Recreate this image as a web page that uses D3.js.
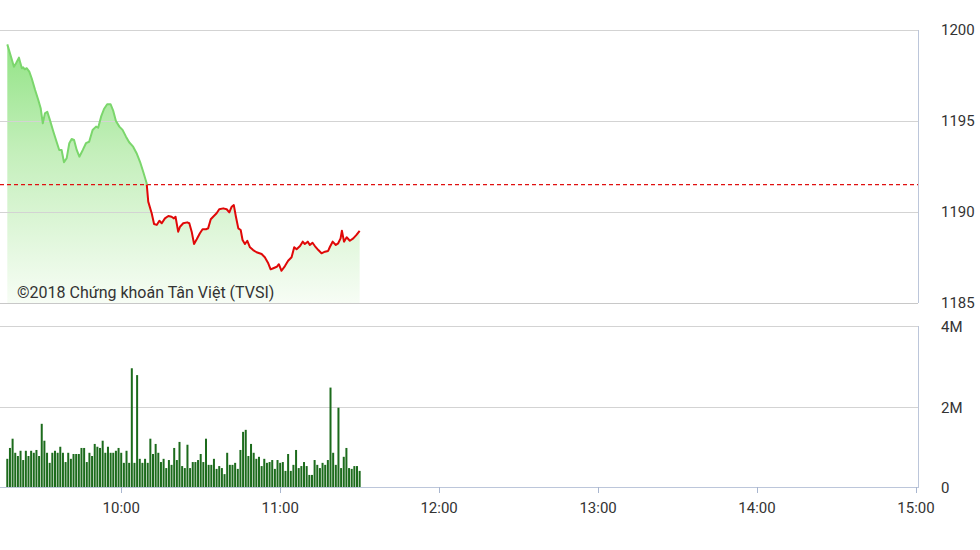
<!DOCTYPE html>
<html>
<head>
<meta charset="utf-8">
<script src="https://cdn.jsdelivr.net/npm/d3@7"></script>
<style>
html,body{margin:0;padding:0;background:#fff;}
svg{display:block;font-family:Roboto,"Noto Sans",Arial,sans-serif;}
</style>
</head>
<body>
<svg id="chart" width="980" height="550"></svg>
<script>
// ---- data ----
// price points: minutes after 09:00, index value
const priceTimes = [17,18.4,19.5,20.3,21.4,21.8,22.5,23.0,23.6,24.3,25.3,26.2,27.5,28.7,29.6,30.4,31.2,32.1,33.1,34.4,35.6,36.6,37.5,38.4,39.4,40.4,41.3,42.2,43.2,44.2,45.5,46.7,47.9,49.2,50.5,51.3,52.4,53.5,54.7,56.0,57.0,58.0,59.3,60.5,61.8,63.0,64.5,65.8,67.1,68.3,69.6,70.2,71.5,72.4,73.4,74.4,75.3,76.5,77.8,79.0,79.9,80.5,81.5,82.2,83.4,84.9,85.7,86.6,87.5,88.5,89.7,90.7,92.0,92.8,93.8,94.7,96.0,97.0,98.5,99.8,100.8,101.7,102.5,103.3,104.2,105.1,105.8,106.7,107.6,108.6,109.8,111.1,113.0,114.2,115.5,116.4,117.4,118.7,119.5,120.5,121.8,123.0,124.3,125.3,126.2,127.5,128.5,129.3,130.4,131.2,132.2,133.1,134.4,135.6,136.9,138.1,138.8,139.8,141.0,141.9,142.8,143.3,144.1,145.1,146.3,147.6,148.8,150];
const priceValues = [1199.21,1198.53,1197.98,1198.17,1198.48,1198.26,1197.90,1197.95,1197.84,1197.90,1197.71,1197.35,1196.70,1196.15,1195.70,1194.87,1195.42,1195.51,1195.05,1194.41,1193.86,1193.41,1193.41,1192.73,1192.95,1193.78,1194.01,1193.96,1193.41,1193.04,1193.41,1193.78,1193.86,1194.51,1194.69,1194.63,1195.24,1195.66,1195.92,1195.92,1195.55,1195.00,1194.69,1194.51,1194.14,1193.83,1193.59,1193.23,1192.76,1192.21,1191.58,1190.57,1189.93,1189.34,1189.29,1189.52,1189.38,1189.65,1189.78,1189.74,1189.65,1189.74,1188.92,1189.19,1189.38,1189.43,1189.38,1188.92,1188.24,1188.50,1188.83,1189.05,1189.05,1189.10,1189.60,1189.74,1189.93,1190.15,1190.20,1190.15,1189.98,1190.29,1190.38,1189.74,1189.10,1189.01,1188.46,1188.24,1188.42,1188.06,1187.91,1187.79,1187.69,1187.51,1187.18,1186.85,1186.91,1186.99,1187.13,1186.77,1187.03,1187.32,1187.51,1188.06,1187.95,1188.13,1188.37,1188.24,1188.37,1188.19,1188.31,1188.13,1187.91,1187.73,1187.82,1187.86,1188.09,1188.37,1188.19,1188.28,1188.55,1188.97,1188.37,1188.61,1188.42,1188.55,1188.74,1188.96];
const referencePrice = 1191.5;

// volume per minute (millions), first bar at 09:17
const volumeStart = 17;
const volumes = [0.7,0.97,1.2,0.85,0.77,0.9,0.67,0.9,0.77,0.9,0.85,0.92,0.77,1.57,1.15,0.85,0.6,0.85,0.9,0.85,1.0,0.85,0.62,0.85,0.7,0.82,0.82,0.82,0.97,0.97,0.62,0.85,0.77,1.07,1.0,0.97,1.15,0.85,1.0,0.85,0.85,0.9,0.97,0.85,
0.6,0.9,0.6,2.95,0.6,2.78,0.7,0.6,0.7,0.6,1.2,0.82,1.07,0.85,0.62,0.7,0.47,0.67,0.55,0.97,0.67,1.12,0.52,0.47,1.05,0.47,0.62,0.62,0.67,0.82,0.62,1.2,0.55,0.55,0.7,0.45,0.52,0.47,0.32,0.85,0.55,0.55,0.6,0.45,
0.92,1.37,1.42,0.77,1.07,0.85,0.7,0.75,0.52,0.7,0.6,0.62,0.67,0.45,0.67,0.6,0.62,0.4,0.82,0.4,0.55,0.92,0.47,0.52,0.62,0.52,0.3,0.3,0.67,0.55,0.47,0.6,0.55,0.67,2.47,0.85,0.55,1.97,0.47,0.75,0.97,0.47,0.45,0.52,0.52,0.4];

const timeTicks = [60,120,180,240,300,360];
const timeTickLabels = ["10:00","11:00","12:00","13:00","14:00","15:00"];
const priceTicks = [1185,1190,1195,1200];
const volumeTicks = [0,2,4];
const volumeTickLabels = ["0","2M","4M"];
const copyright = "©2018 Chứng khoán Tân Việt (TVSI)";

// ---- drawing ----
const svg = d3.select("#chart");
const plotRight = 918;
const x = d3.scaleLinear().domain([15,360]).range([2,916]);
const yP = d3.scaleLinear().domain([1185,1200]).range([303,30]);
const yV = d3.scaleLinear().domain([0,4]).range([487,326]);

const defs = svg.append("defs");
const grad = defs.append("linearGradient").attr("id","areaGrad")
  .attr("gradientUnits","userSpaceOnUse").attr("x1",0).attr("x2",0).attr("y1",yP(1200)).attr("y2",yP(1185));
grad.append("stop").attr("offset","0%").attr("stop-color","#8ce27f");
grad.append("stop").attr("offset","45%").attr("stop-color","#c4efbb");
grad.append("stop").attr("offset","100%").attr("stop-color","#f7fdf5");

const refY = yP(referencePrice);
defs.append("clipPath").attr("id","clipAbove").append("rect")
  .attr("x",0).attr("y",0).attr("width",980).attr("height",refY);
defs.append("clipPath").attr("id","clipBelow").append("rect")
  .attr("x",0).attr("y",refY).attr("width",980).attr("height",550-refY);

const pts = priceTimes.map((t,i)=>({t, v: priceValues[i]}));

// area
svg.append("path").datum(pts)
  .attr("fill","url(#areaGrad)")
  .attr("d", d3.area().x(d=>x(d.t)).y0(yP(1185)).y1(d=>yP(d.v)));

// price gridlines
svg.append("g").selectAll("line").data(priceTicks).join("line")
  .attr("x1",0).attr("x2",plotRight)
  .attr("y1",d=>Math.round(yP(d))+0.5).attr("y2",d=>Math.round(yP(d))+0.5)
  .attr("stroke",d=>d===1185?"#c8c8c8":"#d3d3d3").attr("stroke-width",1);
// right border price panel
svg.append("line").attr("x1",plotRight+0.5).attr("x2",plotRight+0.5)
  .attr("y1",yP(1200)).attr("y2",yP(1185)).attr("stroke","#bcc6da");

// reference dashed line
svg.append("line").attr("x1",0).attr("x2",plotRight)
  .attr("y1",refY).attr("y2",refY)
  .attr("stroke","#e01010").attr("stroke-width",1.2).attr("stroke-dasharray","4,3");

// price line
const line = d3.line().x(d=>x(d.t)).y(d=>yP(d.v));
svg.append("path").datum(pts).attr("clip-path","url(#clipAbove)")
  .attr("fill","none").attr("stroke","#7bd66c").attr("stroke-width",2).attr("stroke-linejoin","round")
  .attr("d",line);
svg.append("path").datum(pts).attr("clip-path","url(#clipBelow)")
  .attr("fill","none").attr("stroke","#e00808").attr("stroke-width",2).attr("stroke-linejoin","round")
  .attr("d",line);

// copyright
svg.append("text").attr("x",17).attr("y",298).attr("font-size",16).attr("fill","#333")
  .text(copyright);

// price labels
svg.append("g").selectAll("text").data(priceTicks).join("text")
  .attr("x",941).attr("y",d=>yP(d)).attr("dy","0.36em")
  .attr("font-size",15).attr("fill","#333").text(d=>d);

// volume gridlines
svg.append("g").selectAll("line").data(volumeTicks.filter(d=>d>0)).join("line")
  .attr("x1",0).attr("x2",plotRight)
  .attr("y1",d=>Math.round(yV(d))+0.5).attr("y2",d=>Math.round(yV(d))+0.5)
  .attr("stroke","#d3d3d3");
svg.append("line").attr("x1",plotRight+0.5).attr("x2",plotRight+0.5)
  .attr("y1",yV(4)).attr("y2",yV(0)).attr("stroke","#bcc6da");

// volume bars
svg.append("g").selectAll("rect").data(volumes).join("rect")
  .attr("x",(d,i)=>x(volumeStart+i)-1).attr("width",2)
  .attr("y",d=>yV(d)).attr("height",d=>yV(0)-yV(d))
  .attr("fill","#1c6b1c");

// x axis baseline & ticks
svg.append("line").attr("x1",0).attr("x2",plotRight+1)
  .attr("y1",yV(0)+0.5).attr("y2",yV(0)+0.5).attr("stroke","#bcc6da");
const xt = svg.append("g").selectAll("g").data(timeTicks).join("g");
xt.append("line").attr("x1",d=>Math.round(x(d))+0.5).attr("x2",d=>Math.round(x(d))+0.5)
  .attr("y1",yV(0)).attr("y2",yV(0)+6).attr("stroke","#a9b6cf");
xt.append("text").attr("x",d=>x(d)).attr("y",508).attr("dy","0.36em")
  .attr("text-anchor","middle").attr("font-size",15).attr("fill","#333")
  .text((d,i)=>timeTickLabels[i]);

// volume labels
svg.append("g").selectAll("text").data(volumeTicks).join("text")
  .attr("x",941).attr("y",d=>yV(d)+1).attr("dy","0.36em")
  .attr("font-size",15).attr("fill","#333").text((d,i)=>volumeTickLabels[i]);
</script>
</body>
</html>
